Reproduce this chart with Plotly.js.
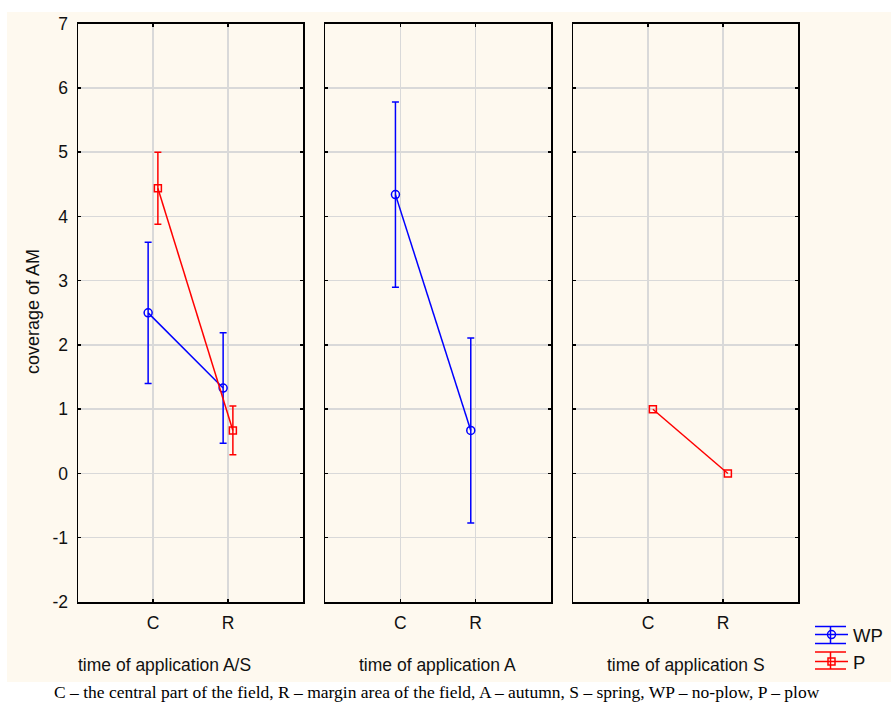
<!DOCTYPE html>
<html>
<head>
<meta charset="utf-8">
<script src="https://cdn.plot.ly/plotly-3.0.1.min.js"></script>
<style>html,body{margin:0;padding:0;background:#fff;}#chart{width:891px;height:703px;}</style>
</head>
<body>
<div id="chart"></div>
<script>
// ---- data ----
const categories = ['C', 'R'];
const panelTitles = ['time of application A/S', 'time of application A', 'time of application S'];
const yTickValues = [-2, -1, 0, 1, 2, 3, 4, 5, 6, 7];
const yTickLabels = ['-2', '-1', '0', '1', '2', '3', '4', '5', '6', '7'];
const yTitle = 'coverage of AM';
const legendNames = ['WP', 'P'];
const caption = 'C – the central part of the field, R – margin area of the field, A – autumn, S – spring, WP – no-plow, P – plow';

// panel 1: A/S
const wpMeanAS = [2.5, 1.33];
const wpErrAS  = [1.1, 0.86];
const pMeanAS  = [4.44, 0.67];
const pErrAS   = [0.56, 0.38];
// panel 2: A
const wpMeanA = [4.34, 0.67];
const wpErrA  = [1.44, 1.44];
// panel 3: S
const pMeanS = [1.0, 0.0];
const pErrS  = [0, 0];

// ---- styling ----
const W = 891, H = 703;
const BLUE = '#0000FF', RED = '#FF0000';
const OFF = {WP: -0.065, P: 0.065};
const px = v => v / W;
const py = v => 1 - v / H;
const catIdx = categories.map((c, i) => i);

function series(name, mean, err, offset, color, symbol, xa, ya, showlegend) {
  return {
    type: 'scatter', mode: 'lines+markers', name: name,
    x: catIdx.map(i => i + offset), y: mean,
    xaxis: xa, yaxis: ya, showlegend: showlegend, legendgroup: name,
    line: {color: color, width: 1.5},
    marker: {symbol: symbol, size: symbol === 'circle-open' ? 8 : 7, color: color, line: {color: color, width: 1.5}},
    error_y: {type: 'data', array: err, visible: err.some(e => e > 0), color: color, thickness: 1.5, width: 3.5},
    cliponaxis: false
  };
}

const traces = [
  series(legendNames[0], wpMeanAS, wpErrAS, OFF.WP, BLUE, 'circle-open', 'x', 'y', true),
  series(legendNames[1], pMeanAS, pErrAS, OFF.P, RED, 'square-open', 'x', 'y', true),
  series(legendNames[0], wpMeanA, wpErrA, OFF.WP, BLUE, 'circle-open', 'x2', 'y2', false),
  series(legendNames[1], pMeanS, pErrS, OFF.P, RED, 'square-open', 'x3', 'y3', false)
];

const FAM = 'Liberation Sans, Arial, sans-serif';
const font = {family: FAM, size: 17.5, color: '#111'};
const panelPx = [[78, 303], [325, 551], [573, 798]];

function xAxis(i) {
  return {
    domain: [px(panelPx[i][0]), px(panelPx[i][1])],
    anchor: i === 0 ? 'y' : 'y' + (i + 1),
    range: [-1, 2], tickvals: catIdx, ticktext: categories,
    showline: true, linecolor: '#000', linewidth: 1.5, mirror: 'ticks',
    ticks: 'inside', ticklen: 3, tickwidth: 1.5, tickcolor: '#000',
    showgrid: true, gridcolor: '#D9D9D9', gridwidth: 1.5, zeroline: false,
    tickfont: font, ticklabelstandoff: 4, fixedrange: true
  };
}
function yAxis(i) {
  return {
    domain: [py(602), py(23.7)],
    anchor: i === 0 ? 'x' : 'x' + (i + 1),
    range: [-2, 7], tickvals: yTickValues, ticktext: yTickLabels,
    showline: true, linecolor: '#000', linewidth: 1.5, mirror: 'ticks',
    ticks: 'inside', ticklen: 3, tickwidth: 1.5, tickcolor: '#000',
    showgrid: true, gridcolor: '#D9D9D9', gridwidth: 1.5, zeroline: false,
    showticklabels: i === 0, tickfont: font, ticklabelstandoff: 5, fixedrange: true
  };
}

const annotations = [
  {text: yTitle, xref: 'paper', yref: 'paper', x: px(33), y: py(312), textangle: -90,
   showarrow: false, font: {family: FAM, size: 18, color: '#111'}, xanchor: 'center', yanchor: 'middle'},
  {text: panelTitles[0], xref: 'paper', yref: 'paper', x: px(164), y: py(665), showarrow: false, font: font, xanchor: 'center', yanchor: 'middle'},
  {text: panelTitles[1], xref: 'paper', yref: 'paper', x: px(437), y: py(665), showarrow: false, font: font, xanchor: 'center', yanchor: 'middle'},
  {text: panelTitles[2], xref: 'paper', yref: 'paper', x: px(686), y: py(665), showarrow: false, font: font, xanchor: 'center', yanchor: 'middle'},
  {text: caption, xref: 'paper', yref: 'paper', x: px(437), y: py(692), showarrow: false,
   font: {family: 'Liberation Serif, Times New Roman, serif', size: 17.5, color: '#000'}, xanchor: 'center', yanchor: 'middle'}
];

// legend-icon cross bars (decoration for the error-bar style legend keys)
function iconBars(yMid, color) {
  const bars = [yMid - 8.5, yMid + 8.5].map(yy => ({
    type: 'line', xref: 'paper', yref: 'paper', x0: px(815), x1: px(846), y0: py(yy), y1: py(yy),
    line: {color: color, width: 1.5}
  }));
  bars.push({type: 'line', xref: 'paper', yref: 'paper', x0: px(830.5), x1: px(830.5),
             y0: py(yMid - 8.5), y1: py(yMid + 8.5), line: {color: color, width: 1.5}});
  return bars;
}

const shapes = [
  {type: 'rect', xref: 'paper', yref: 'paper', x0: px(7), x1: 1, y0: py(682), y1: py(12),
   fillcolor: '#FEF9EF', line: {width: 0}, layer: 'below'}
].concat(iconBars(635, BLUE), iconBars(660.5, RED));

const layout = {
  width: W, height: H,
  margin: {l: 0, r: 0, t: 0, b: 0, pad: 0},
  paper_bgcolor: '#FFFFFF', plot_bgcolor: '#FFFFFF',
  font: font, showlegend: true,
  legend: {x: px(810), y: py(616), xanchor: 'left', yanchor: 'top', bgcolor: 'rgba(0,0,0,0)',
           font: {family: FAM, size: 18.5, color: '#111'}, tracegroupgap: 0, itemwidth: 33},
  xaxis: xAxis(0), xaxis2: xAxis(1), xaxis3: xAxis(2),
  yaxis: yAxis(0), yaxis2: yAxis(1), yaxis3: yAxis(2),
  annotations: annotations, shapes: shapes
};

Plotly.newPlot('chart', traces, layout, {displayModeBar: false, staticPlot: true});
</script>
</body>
</html>
